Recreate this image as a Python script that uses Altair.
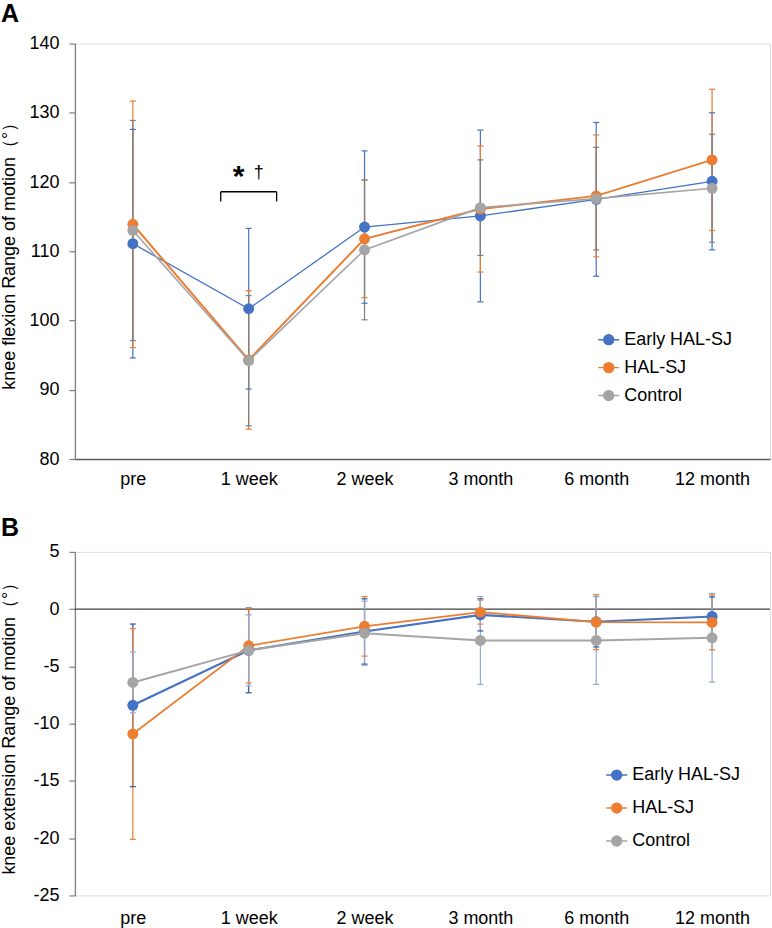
import altair as alt
import pandas as pd

categories = ["pre", "1 week", "2 week", "3 month", "6 month", "12 month"]
series = ["Early HAL-SJ", "HAL-SJ", "Control"]

# Panel A: knee flexion range of motion, mean and SD
flex_early = [111.1, 101.7, 113.5, 115.1, 117.5, 120.1]
flex_early_sd = [16.5, 11.6, 11.0, 12.4, 11.1, 9.9]
flex_hal = [113.9, 94.3, 111.8, 116.1, 118.0, 123.2]
flex_hal_sd = [17.8, 10.0, 8.5, 9.1, 8.8, 10.2]
flex_ctrl = [113.0, 94.2, 110.2, 116.3, 117.6, 119.1]
flex_ctrl_sd = [15.9, 9.4, 10.1, 6.9, 7.4, 7.8]

# Panel B: knee extension range of motion, mean and SD
ext_early = [-8.4, -3.6, -1.95, -0.5, -1.1, -0.64]
ext_early_sd = [7.1, 3.7, 2.85, 1.4, 2.2, 1.7]
ext_hal = [-10.9, -3.2, -1.5, -0.26, -1.13, -1.16]
ext_hal_sd = [9.2, 3.25, 2.6, 1.05, 2.4, 2.4]
ext_ctrl = [-6.4, -3.6, -2.1, -2.73, -2.73, -2.5]
ext_ctrl_sd = [2.65, 3.1, 2.8, 3.84, 3.84, 3.87]

flex_ticks = [80, 90, 100, 110, 120, 130, 140]
ext_ticks = [-25, -20, -15, -10, -5, 0, 5]

# significance annotation in panel A
annot_time = ["1 week"]
bracket_y = [118.6]
bracket_leg_y = [117.2]
mark_y = [121.3]

line_colors = ["#4472C4", "#ED7D31", "#A5A5A5"]
err_colors_a = ["#4472C4", "#ED7D31", "#7F7F7F"]
err_colors_b = ["#2F5597", "#ED7D31", "#8FAADC"]
line_widths_a = [1.3, 2.0, 1.6]
line_widths_b = [2.2, 1.8, 2.0]

FONT = "Liberation Sans"
W = 696
SYMBOL = "M-1,0H1M-0.47,0A0.47,0.47,0,1,1,0.47,0A0.47,0.47,0,1,1,-0.47,0Z"


def build_df(means, sds, widths, ecolors):
    rows = []
    for i, s in enumerate(series):
        for j, c in enumerate(categories):
            m = means[i][j]
            sd = sds[i][j]
            rows.append({"series": s, "k": i, "j": j, "time": c, "mean": m,
                         "lo": m - sd, "hi": m + sd, "lw": widths[i], "ecol": ecolors[i]})
    return pd.DataFrame(rows)


def panel(df, ticks, title, letter, letter_y, legend_x, legend_y, row_pad,
          x_domain_line, x_label_pad, H, extra_before=(), extra_after=()):
    yscale = alt.Scale(domain=[ticks[0], ticks[-1]], nice=False, zero=False)
    yaxis = alt.Axis(title=title, values=ticks, grid=False, tickSize=6, tickColor="#7F7F7F",
                     tickWidth=1.2, domainColor="#7F7F7F", domainWidth=1.3, labelFontSize=18,
                     labelFont=FONT, labelColor="#000000", labelPadding=10,
                     labelExpr="replace(datum.label, '\u2212', '-')",
                     titleFont=FONT, titleFontSize=18, titleFontWeight="normal",
                     titleColor="#000000", titleX=-56)
    xaxis = alt.Axis(title=None, labelAngle=0, labelFontSize=18, labelFont=FONT,
                     labelColor="#000000", ticks=False, tickSize=0, labelPadding=x_label_pad,
                     domain=x_domain_line, domainColor="#595959", domainWidth=1.3, grid=False)
    xscale = alt.Scale(type="point", padding=0.5)
    x = alt.X("time:N", sort=categories, scale=xscale, axis=xaxis)
    legend = alt.Legend(title=None, orient="none", legendX=legend_x, legendY=legend_y,
                        symbolType=SYMBOL, symbolSize=441, symbolStrokeWidth=1.5,
                        labelFontSize=18, labelFont=FONT, labelColor="#000000",
                        rowPadding=row_pad, padding=0, labelOffset=4, symbolOpacity=1)
    color = alt.Color("series:N", scale=alt.Scale(domain=series, range=line_colors),
                      sort=series, legend=legend)
    base = alt.Chart(df)
    err = base.mark_rule(strokeWidth=1.2).encode(
        x=x, y=alt.Y("lo:Q", scale=yscale, axis=yaxis), y2="hi:Q",
        stroke=alt.Stroke("ecol:N", scale=None))
    cap_lo = base.mark_rule(strokeWidth=1.2, xOffset=-3, x2Offset=3).encode(
        x=x, x2="time:N", y=alt.Y("lo:Q", scale=yscale, axis=yaxis),
        stroke=alt.Stroke("ecol:N", scale=None))
    cap_hi = base.mark_rule(strokeWidth=1.2, xOffset=-3, x2Offset=3).encode(
        x=x, x2="time:N", y=alt.Y("hi:Q", scale=yscale, axis=yaxis),
        stroke=alt.Stroke("ecol:N", scale=None))
    line = base.mark_line().encode(
        x=x, y=alt.Y("mean:Q", scale=yscale, axis=yaxis), color=color,
        strokeWidth=alt.StrokeWidth("lw:Q", scale=None), order="j:Q")
    pts = base.mark_point(filled=True, size=120, opacity=1).encode(
        x=x, y=alt.Y("mean:Q", scale=yscale, axis=yaxis), color=color, order="k:Q")
    lab = alt.Chart(pd.DataFrame({"t": [letter]})).mark_text(
        fontSize=25, fontWeight="bold", font=FONT, align="left", baseline="middle",
        color="#000000").encode(x=alt.value(-74), y=alt.value(letter_y), text="t:N")
    layers = list(extra_before) + [err, cap_lo, cap_hi, line, pts] + list(extra_after) + [lab]
    return alt.layer(*layers).properties(width=W, height=H)


df_a = build_df([flex_early, flex_hal, flex_ctrl], [flex_early_sd, flex_hal_sd, flex_ctrl_sd],
                line_widths_a, err_colors_a)
df_b = build_df([ext_early, ext_hal, ext_ctrl], [ext_early_sd, ext_hal_sd, ext_ctrl_sd],
                line_widths_b, err_colors_b)

# annotation layers for panel A
ann = pd.DataFrame({"time": annot_time, "y": bracket_y, "y2": bracket_leg_y, "m": mark_y})
ascale = alt.Scale(domain=[flex_ticks[0], flex_ticks[-1]], nice=False, zero=False)
ax_x = alt.X("time:N", sort=categories, scale=alt.Scale(type="point", padding=0.5))
bracket_h = alt.Chart(ann).mark_rule(color="#000000", strokeWidth=1.3, xOffset=-28, x2Offset=28).encode(
    x=ax_x, x2="time:N", y=alt.Y("y:Q", scale=ascale))
bracket_l = alt.Chart(ann).mark_rule(color="#000000", strokeWidth=1.3, xOffset=-28).encode(
    x=ax_x, y=alt.Y("y:Q", scale=ascale), y2="y2:Q")
bracket_r = alt.Chart(ann).mark_rule(color="#000000", strokeWidth=1.3, xOffset=28).encode(
    x=ax_x, y=alt.Y("y:Q", scale=ascale), y2="y2:Q")
star = alt.Chart(ann).mark_text(text="*", fontSize=30, fontWeight="bold", font=FONT,
                                color="#000000", dx=-10, dy=4,
                                baseline="middle").encode(x=ax_x, y=alt.Y("m:Q", scale=ascale))
dagger = alt.Chart(ann).mark_text(text="†", fontSize=18, font=FONT, color="#000000", dx=10,
                                  baseline="middle").encode(x=ax_x, y=alt.Y("m:Q", scale=ascale))

# zero line for panel B
zero = pd.DataFrame({"v": [0]})
bscale = alt.Scale(domain=[ext_ticks[0], ext_ticks[-1]], nice=False, zero=False)
zero_line = alt.Chart(zero).mark_rule(color="#404040", strokeWidth=1.3).encode(
    y=alt.Y("v:Q", scale=bscale))

chart_a = panel(df_a, flex_ticks, "knee flexion Range of motion（°）", "A", -30, 523, 285, 7,
                True, 12, 416, extra_after=[bracket_h, bracket_l, bracket_r, star, dagger])
chart_b = panel(df_b, ext_ticks, "knee extension Range of motion（°）", "B", -24, 531, 212, 12,
                False, 14, 344, extra_before=[zero_line])

chart = alt.vconcat(chart_a, chart_b, spacing=25).resolve_scale(
    x="independent", y="independent", color="independent"
).resolve_legend(color="independent").properties(
    padding={"left": 0, "top": 0, "right": 0, "bottom": 0}
).configure_view(stroke=None).configure_axis(
    titleFontSize=18, titleFont=FONT
).configure(background="white")

chart.save("out.html", embed_options={"renderer": "svg", "actions": False})
